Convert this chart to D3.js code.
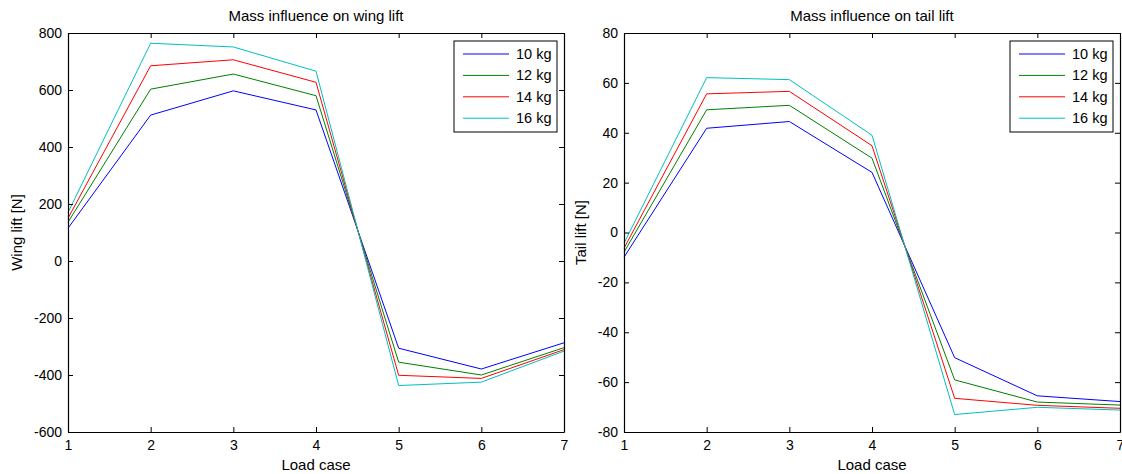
<!DOCTYPE html>
<html>
<head>
<meta charset="utf-8">
<script src="https://cdn.jsdelivr.net/npm/d3@7"></script>
<style>
  html, body { margin: 0; padding: 0; background: #fff; }
  svg { display: block; font-family: "Liberation Sans", Arial, sans-serif; }
</style>
</head>
<body>
<svg id="fig" width="1122" height="474"></svg>
<script>
// Load cases on the horizontal axis
const loadCases = [1, 2, 3, 4, 5, 6, 7];
const masses = ["10 kg", "12 kg", "14 kg", "16 kg"];
const colors = ["#0000ff", "#008000", "#ff0000", "#00bfbf"];

// Wing lift [N] per mass, one value per load case
const wing10 = [115, 512, 597, 530, -306, -379, -287];
const wing12 = [136, 603, 656, 580, -355, -400, -304];
const wing14 = [150, 685, 706, 627, -401, -412, -311];
const wing16 = [170, 764, 751, 666, -437, -425, -316];

// Tail lift [N] per mass, one value per load case
const tail10 = [-9.9, 41.8, 44.5, 24.1, -50.2, -65.5, -67.8];
const tail12 = [-7.9, 49.2, 51.0, 29.8, -59.1, -68.0, -69.2];
const tail14 = [-6.3, 55.6, 56.6, 34.8, -66.5, -69.3, -70.5];
const tail16 = [-4.3, 62.1, 61.3, 39.0, -73.0, -70.1, -71.2];

const wingTicks = [-600, -400, -200, 0, 200, 400, 600, 800];
const tailTicks = [-80, -60, -40, -20, 0, 20, 40, 60, 80];

const svg = d3.select("#fig");
const TICK_FS = "14px";
const LABEL_FS = "15px";
const LEGEND_FS = "14.5px";
// plain hyphen for negative tick labels
const fmt = d => String(d);

function drawPanel(opt) {
  const g = svg.append("g");
  const x = d3.scaleLinear().domain([1, 7]).range([opt.left, opt.right]);
  const y = d3.scaleLinear().domain(opt.yDomain).range([opt.bottom, opt.top]);
  const tickLen = 5;

  // Series lines
  const line = d3.line().x((d, i) => x(loadCases[i])).y(d => y(d));
  opt.series.forEach((s, k) => {
    g.append("path").datum(s)
      .attr("fill", "none")
      .attr("stroke", colors[k])
      .attr("stroke-width", 1)
      .attr("d", line);
  });

  // Axes with inward ticks on all four sides
  const bottomAxis = d3.axisBottom(x).tickValues(loadCases).tickSizeInner(-tickLen).tickSizeOuter(0).tickPadding(8).tickFormat(fmt);
  const topAxis = d3.axisTop(x).tickValues(loadCases).tickSizeInner(-tickLen).tickSizeOuter(0).tickFormat("");
  const leftAxis = d3.axisLeft(y).tickValues(opt.ticks).tickSizeInner(-tickLen).tickSizeOuter(0).tickPadding(6).tickFormat(fmt);
  const rightAxis = d3.axisRight(y).tickValues(opt.ticks).tickSizeInner(-tickLen).tickSizeOuter(0).tickFormat("");

  const axes = [
    g.append("g").attr("transform", `translate(0,${opt.bottom})`).call(bottomAxis),
    g.append("g").attr("transform", `translate(0,${opt.top})`).call(topAxis),
    g.append("g").attr("transform", `translate(${opt.left},0)`).call(leftAxis),
    g.append("g").attr("transform", `translate(${opt.right},0)`).call(rightAxis)
  ];
  axes.forEach(a => {
    a.selectAll("path.domain").attr("stroke", "#000").attr("stroke-width", 1.2);
    a.selectAll(".tick line").attr("stroke", "#000").attr("stroke-width", 1);
    a.selectAll(".tick text").attr("fill", "#000").style("font-size", TICK_FS)
      .style("font-family", "'Liberation Sans', Arial, sans-serif");
  });

  // Title and axis labels
  const cx = (opt.left + opt.right) / 2;
  g.append("text").attr("x", cx).attr("y", 21).attr("text-anchor", "middle")
    .style("font-size", LABEL_FS).text(opt.title);
  g.append("text").attr("x", cx).attr("y", 470).attr("text-anchor", "middle")
    .style("font-size", LABEL_FS).text("Load case");
  g.append("text")
    .attr("transform", `translate(${opt.left - opt.ylabelOffset},${(opt.top + opt.bottom) / 2}) rotate(-90)`)
    .attr("text-anchor", "middle")
    .style("font-size", LABEL_FS).text(opt.ylabel);

  // Legend
  const lx = opt.right - 110, ly = 41, lw = 103, lh = 91;
  const leg = g.append("g");
  leg.append("rect").attr("x", lx).attr("y", ly).attr("width", lw).attr("height", lh)
    .attr("fill", "#fff").attr("stroke", "#000").attr("stroke-width", 1);
  masses.forEach((m, k) => {
    const ry = ly + 13 + k * 21.4;
    leg.append("line").attr("x1", lx + 9).attr("x2", lx + 55)
      .attr("y1", ry).attr("y2", ry)
      .attr("stroke", colors[k]).attr("stroke-width", 1);
    leg.append("text").attr("x", lx + 62).attr("y", ry + 5)
      .style("font-size", LEGEND_FS).text(m);
  });
}

drawPanel({
  left: 68, right: 564, top: 33, bottom: 432,
  yDomain: [-600, 800], ticks: wingTicks,
  series: [wing10, wing12, wing14, wing16],
  title: "Mass influence on wing lift", ylabel: "Wing lift [N]", ylabelOffset: 46
});

drawPanel({
  left: 624, right: 1120, top: 33, bottom: 432,
  yDomain: [-80, 80], ticks: tailTicks,
  series: [tail10, tail12, tail14, tail16],
  title: "Mass influence on tail lift", ylabel: "Tail lift [N]", ylabelOffset: 38
});
</script>
</body>
</html>
